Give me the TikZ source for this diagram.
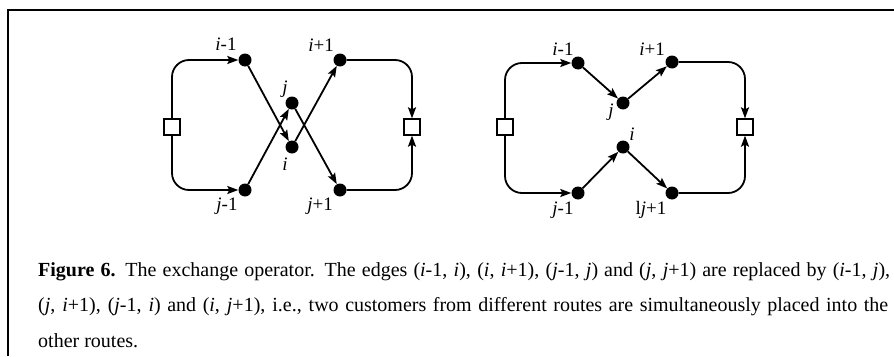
\documentclass[tikz,border=0pt]{standalone}
\usepackage{fontspec}
\setmainfont{Liberation Serif}
\usetikzlibrary{arrows.meta}
\tikzset{
	dot/.style={circle, fill, inner sep=0pt, minimum size=13pt},
	depot/.style={draw, fill=white, line width=1.3pt, inner sep=0pt, minimum size=16pt},
	lbl/.style={font=\fontsize{19}{22}\selectfont, inner sep=0pt},
	caption/.style={font=\fontsize{20}{24}\selectfont, inner sep=0pt, anchor=base west},
	route/.style={line width=1.8pt, rounded corners=17pt, -{Stealth[length=11pt,width=8pt,inset=2pt]}}
}
\begin{document}
\begin{tikzpicture}[x=1pt,y=-1pt]
		\useasboundingbox (0,0) rectangle (894,356);
		
		% Frame
		\draw[line width=2pt] (8,356) -- (8,10) -- (894,10);
		
		% Before the exchange
		\node[depot] (dla) at (172,127) {};
		\node[depot] (dra) at (412,127) {};
		\node[dot] (ima) at (245,60) {};
		\node[dot] (ipa) at (340,60) {};
		\node[dot] (ja) at (292,103) {};
		\node[dot] (ia) at (292,147) {};
		\node[dot] (jma) at (245,190) {};
		\node[dot] (jpa) at (340,190) {};
		
		\node[lbl] (lima) at (226,44) {\textit{i}-1};
		\node[lbl] (lipa) at (321,45) {\textit{i}+1};
		\node[lbl] (lja) at (285,89) {\textit{j}};
		\node[lbl] (lia) at (285,164) {\textit{i}};
		\node[lbl] (ljma) at (227,206) {\textit{j}-1};
		\node[lbl] (ljpa) at (320,206) {\textit{j}+1};
		
		\draw[route] (dla) |- (ima);
		\draw[route] (ima) -- (ia);
		\draw[route] (ia) -- (ipa);
		\draw[route] (ipa) -| (dra);
		\draw[route] (dla) |- (jma);
		\draw[route] (jma) -- (ja);
		\draw[route] (ja) -- (jpa);
		\draw[route] (jpa) -| (dra);
		
		% After the exchange
		\node[depot] (dlb) at (505,127) {};
		\node[depot] (drb) at (745,127) {};
		\node[dot] (imb) at (578,63) {};
		\node[dot] (ipb) at (672,62) {};
		\node[dot] (jb) at (623,103) {};
		\node[dot] (ib) at (623,147) {};
		\node[dot] (jmb) at (578,193) {};
		\node[dot] (jpb) at (672,193) {};
		
		\node[lbl] (limb) at (563,49) {\textit{i}-1};
		\node[lbl] (lipb) at (652,49) {\textit{i}+1};
		\node[lbl] (ljb) at (611,112) {\textit{j}};
		\node[lbl] (lib) at (632,134) {\textit{i}};
		\node[lbl] (ljmb) at (563,210) {\textit{j}-1};
		\node[lbl] (ljpb) at (651,210) {l\textit{j}+1};
		
		\draw[route] (dlb) |- (imb);
		\draw[route] (imb) -- (jb);
		\draw[route] (jb) -- (ipb);
		\draw[route] (ipb) -| (drb);
		\draw[route] (dlb) |- (jmb);
		\draw[route] (jmb) -- (ib);
		\draw[route] (ib) -- (jpb);
		\draw[route] (jpb) -| (drb);
		
		% Caption
		\node[caption] (capa) at (38,276) {\makebox[852pt][s]{\textbf{Figure 6.} The exchange operator. The edges (\textit{i}-1, \textit{i}), (\textit{i}, \textit{i}+1), (\textit{j}-1, \textit{j}) and (\textit{j}, \textit{j}+1) are replaced by (\textit{i}-1, \textit{j}),}};
		\node[caption] (capb) at (38,311.5) {\makebox[850pt][s]{(\textit{j}, \textit{i}+1), (\textit{j}-1, \textit{i}) and (\textit{i}, \textit{j}+1), i.e., two customers from different routes are simultaneously placed into the}};
		\node[caption] (capc) at (38,347) {other routes.};
	\end{tikzpicture}
\end{document}
